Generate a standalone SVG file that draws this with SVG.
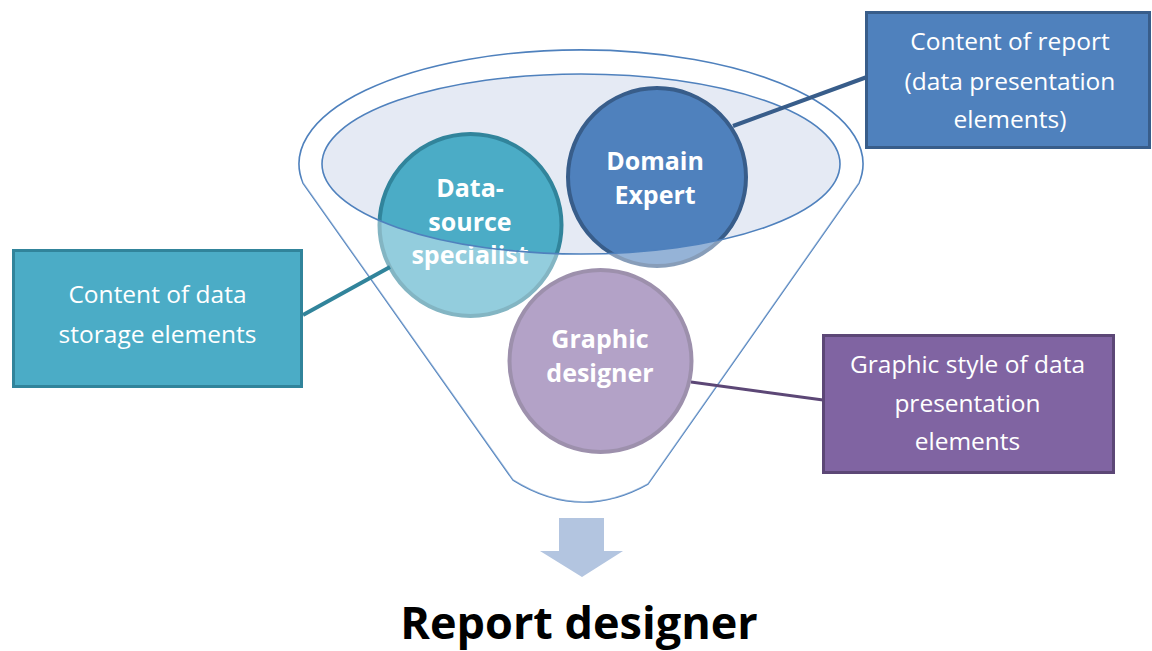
<svg xmlns="http://www.w3.org/2000/svg" width="1152" height="651" viewBox="0 0 1152 651">
  <style>
    .funnel { fill: none; stroke: #4F81BD; stroke-width: 1.6; }
    .ctext { font-family: "Open Sans", "DejaVu Sans", sans-serif; font-weight: bold; font-size: 25px; fill: #FFFFFF; text-anchor: middle; }
    .btext { font-family: "Open Sans", "DejaVu Sans", sans-serif; font-size: 24.5px; fill: #FFFFFF; text-anchor: middle; }
    .title { font-family: "Open Sans", "DejaVu Sans", sans-serif; font-weight: bold; font-size: 45px; fill: #000000; text-anchor: middle; }
    .teal { fill: #4BACC6; stroke: #31849B; }
    .blue { fill: #4F81BD; stroke: #385D8A; }
    .purple { fill: #8064A2; stroke: #5C4776; }
    .circ { stroke-width: 4; }
    .box { stroke-width: 3; }
  </style>
  <rect width="1152" height="651" fill="#FFFFFF"/>

  <!-- funnel outline and opening -->
  <g id="funnel">
    <path class="funnel" d="M 303,183 A 282 114 0 1 1 859,183 L 648,484 Q 580,522 513,480 Z"/>
    <ellipse cx="581" cy="164" rx="259" ry="90" fill="#E5EAF4"/>
  </g>

  <!-- role circles -->
  <g id="node-datasource">
    <circle class="teal circ" cx="470.5" cy="225" r="91"/>
    <text class="ctext" x="470" y="197">Data-</text>
    <text class="ctext" x="470" y="231">source</text>
    <text class="ctext" x="470" y="264">specialist</text>
  </g>
  <g id="node-domain">
    <circle class="blue circ" cx="657" cy="177" r="89"/>
    <text class="ctext" x="655" y="170">Domain</text>
    <text class="ctext" x="655" y="204">Expert</text>
  </g>
  <g id="node-graphic">
    <circle class="purple circ" cx="600.5" cy="361" r="91"/>
    <text class="ctext" x="600" y="348">Graphic</text>
    <text class="ctext" x="600" y="382">designer</text>
  </g>

  <!-- funnel body overlay and opening rim -->
  <g id="funnel-front">
    <path d="M 322,164 A 259 90 0 0 0 840,164 L 862,164 L 859,183 L 648,484 Q 580,522 513,480 L 303,183 L 300,164 Z" fill="#FFFFFF" fill-opacity="0.4"/>
    <ellipse class="funnel" cx="581" cy="164" rx="259" ry="90"/>
  </g>

  <!-- connectors -->
  <g id="connectors" fill="none">
    <line x1="390" y1="267" x2="303" y2="315" stroke="#31849B" stroke-width="4"/>
    <line x1="733" y1="126" x2="867" y2="77" stroke="#385D8A" stroke-width="4"/>
    <line x1="691" y1="382" x2="823" y2="400" stroke="#5C4776" stroke-width="3"/>
  </g>

  <!-- text boxes -->
  <g id="box-storage">
    <rect class="teal box" x="13.5" y="250.5" width="288" height="136"/>
    <text class="btext" x="157.5" y="303">Content of data</text>
    <text class="btext" x="157.5" y="343">storage elements</text>
  </g>
  <g id="box-report">
    <rect class="blue box" x="866.5" y="12.5" width="283" height="135"/>
    <text class="btext" x="1010" y="50">Content of report</text>
    <text class="btext" x="1010" y="90">(data presentation</text>
    <text class="btext" x="1010" y="128">elements)</text>
  </g>
  <g id="box-style">
    <rect class="purple box" x="823.5" y="335.5" width="290" height="137"/>
    <text class="btext" x="967.5" y="373">Graphic style of data</text>
    <text class="btext" x="967.5" y="412">presentation</text>
    <text class="btext" x="967.5" y="450">elements</text>
  </g>

  <!-- output arrow and result -->
  <g id="arrow">
    <path d="M 559,518 L 604,518 L 604,551 L 623,551 L 582,577 L 540,551 L 559,551 Z" fill="#B3C5E0"/>
  </g>
  <g id="node-result">
    <text class="title" x="579" y="639">Report designer</text>
  </g>
</svg>
